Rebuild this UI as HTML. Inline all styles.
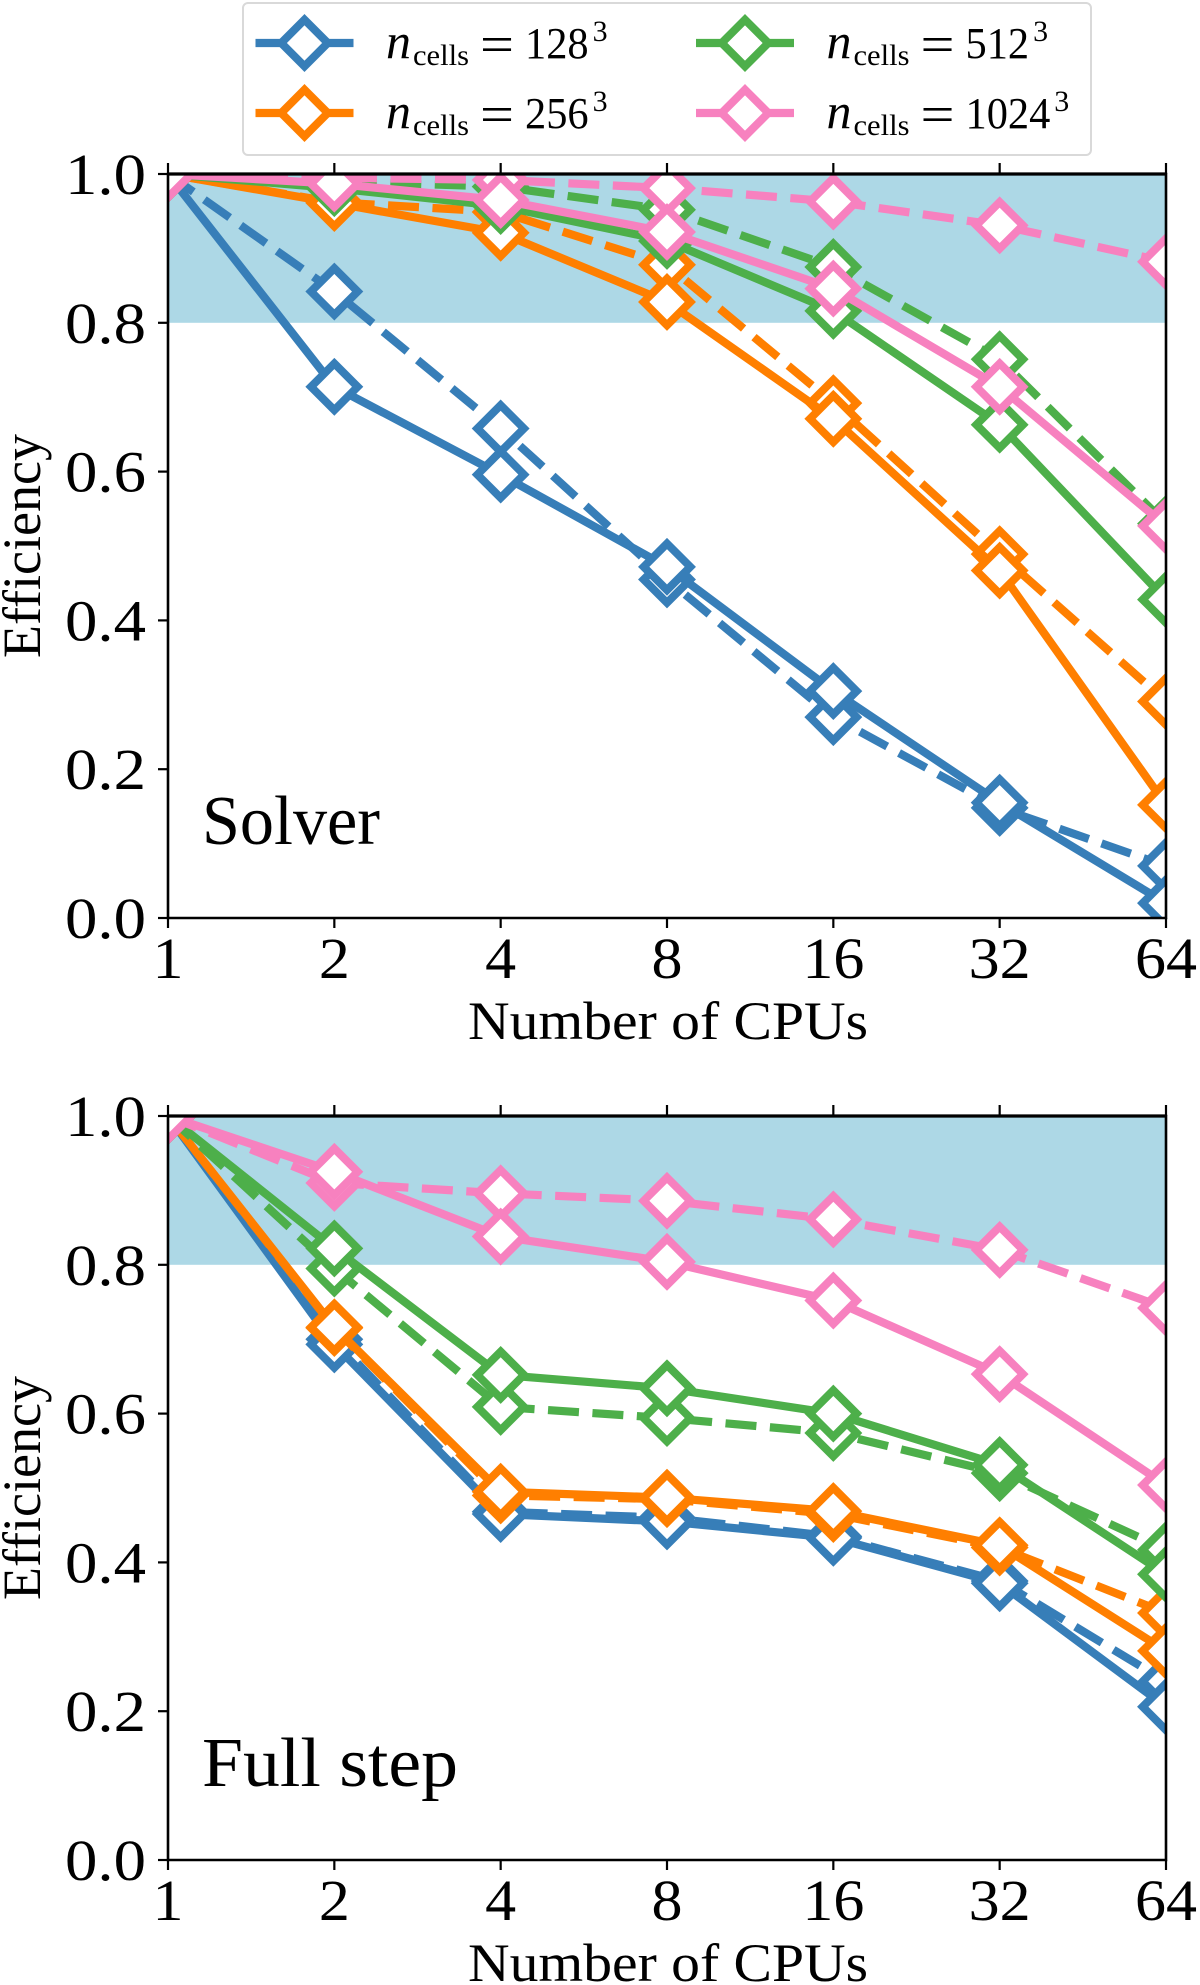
<!DOCTYPE html>
<html lang="en">
<head>
<meta charset="utf-8">
<title>Efficiency vs Number of CPUs</title>
<style>
html,body{margin:0;padding:0;background:#fff;}
svg{display:block;}
text{font-family:"Liberation Serif","DejaVu Serif",serif;fill:#000;}
</style>
</head>
<body>
<svg id="chart" xmlns="http://www.w3.org/2000/svg" width="1200" height="1985" viewBox="0 0 1200 1985">
  <g id="legend"></g>
</svg>
<script>
const cpus = [1, 2, 4, 8, 16, 32, 64];
const xTickLabels = ['1', '2', '4', '8', '16', '32', '64'];
const yTicks = [0, 0.2, 0.4, 0.6, 0.8, 1];
const yTickLabels = ['0.0', '0.2', '0.4', '0.6', '0.8', '1.0'];
const bandRange = [0.8, 1.0];
const seriesNames = ['128', '256', '512', '1024'];

const solver128Solid = [1, 0.714, 0.596, 0.472, 0.305, 0.155, 0.02];
const solver128Dashed = [1, 0.842, 0.658, 0.455, 0.27, 0.148, 0.07];
const solver256Solid = [1, 0.961, 0.921, 0.828, 0.671, 0.467, 0.152];
const solver256Dashed = [1, 0.962, 0.949, 0.878, 0.692, 0.489, 0.291];
const solver512Solid = [1, 0.981, 0.957, 0.91, 0.816, 0.663, 0.428];
const solver512Dashed = [1, 0.99, 0.983, 0.952, 0.875, 0.751, 0.53];
const solver1024Solid = [1, 0.987, 0.965, 0.922, 0.846, 0.714, 0.527];
const solver1024Dashed = [1, 0.995, 0.992, 0.981, 0.963, 0.931, 0.882];

const full128Solid = [1, 0.693, 0.465, 0.455, 0.433, 0.372, 0.206];
const full128Dashed = [1, 0.70, 0.468, 0.46, 0.435, 0.375, 0.24];
const full256Solid = [1, 0.716, 0.495, 0.487, 0.469, 0.423, 0.281];
const full256Dashed = [1, 0.715, 0.49, 0.485, 0.465, 0.42, 0.332];
const full512Solid = [1, 0.822, 0.652, 0.634, 0.60, 0.531, 0.384];
const full512Dashed = [1, 0.795, 0.609, 0.594, 0.574, 0.52, 0.417];
const full1024Solid = [1, 0.925, 0.838, 0.804, 0.752, 0.653, 0.504];
const full1024Dashed = [1, 0.91, 0.896, 0.886, 0.861, 0.82, 0.742];

const NS = 'http://www.w3.org/2000/svg';
const svg = document.getElementById('chart');
const legend = document.getElementById('legend');
const colors = ['#377eb8', '#ff7f00', '#4daf4a', '#f781bf'];
const AX_LEFT = 168, AX_RIGHT = 1166, AX_H = 744, LW = 8.2, MW = 8, DH = 23.3;

function make(tag, attrs, parent) {
  const el = document.createElementNS(NS, tag);
  for (const k in attrs) el.setAttribute(k, attrs[k]);
  parent.appendChild(el);
  return el;
}
function xScale(v) {
  return AX_LEFT + (Math.log2(v) / Math.log2(64)) * (AX_RIGHT - AX_LEFT);
}
function yScaleFor(top) {
  return function (v) { return top + (1 - v) * AX_H; };
}
function diamondPoints(cx, cy) {
  return [[cx, cy - DH], [cx + DH, cy], [cx, cy + DH], [cx - DH, cy]].map(function (p) { return p.join(','); }).join(' ');
}

function drawPanel(key, top, labelText, labelLen, series) {
  const y = yScaleFor(top);
  const bottom = top + AX_H;
  const g = make('g', {}, svg);
  
  

  const clip = make('clipPath', { id: 'clip-' + key }, g);
  
  
  make('rect', { x: AX_LEFT, y: top, width: AX_RIGHT - AX_LEFT, height: AX_H }, clip);

  const band = make('rect', { x: AX_LEFT, y: y(bandRange[1]), width: AX_RIGHT - AX_LEFT, height: y(bandRange[0]) - y(bandRange[1]), fill: '#add8e6' }, g);
  
  

  const plot = make('g', { 'clip-path': 'url(#clip-' + key + ')' }, g);
  
  

  series.forEach(function (s) {
    const pts = s.values.map(function (v, i) { return xScale(cpus[i]) + ',' + y(v); }).join(' ');
    const sg = make('g', {}, plot);
    
    
    const line = make('polyline', { points: pts, fill: 'none', stroke: s.color, 'stroke-width': LW, 'stroke-linejoin': 'round' }, sg);
    if (s.style === 'dashed') line.setAttribute('stroke-dasharray', '31 13.5');
    
    
    s.values.forEach(function (v, i) {
      const m = make('polygon', { points: diamondPoints(xScale(cpus[i]), y(v)), fill: '#fff', stroke: s.color, 'stroke-width': MW, 'stroke-linejoin': 'miter' }, sg);
      
      
    });
  });

  const spines = make('path', { d: 'M' + AX_LEFT + ' ' + top + 'V' + bottom + 'H' + AX_RIGHT + 'V' + top + 'Z', fill: 'none', stroke: '#000', 'stroke-width': 2.6 }, g);
  
  
  const topSpine = make('line', { x1: AX_LEFT, x2: AX_RIGHT, y1: top, y2: top, stroke: '#000', 'stroke-width': 3.2 }, g);
  
  

  cpus.forEach(function (c, i) {
    const x = xScale(c);
    const t1 = make('line', { x1: x, x2: x, y1: bottom, y2: bottom + 10, stroke: '#000', 'stroke-width': 2.2 }, g);
    
    
    const t2 = make('line', { x1: x, x2: x, y1: top, y2: top - 11, stroke: '#000', 'stroke-width': 2.2 }, g);
    
    
    const lab = make('text', { x: x, y: bottom + 60, 'font-size': 58, 'text-anchor': 'middle', lengthAdjust: 'spacingAndGlyphs', textLength: xTickLabels[i].length * 31 }, g);
    lab.textContent = xTickLabels[i];
    
    
  });

  yTicks.forEach(function (v, i) {
    const yy = y(v);
    const t = make('line', { x1: AX_LEFT - 10, x2: AX_LEFT, y1: yy, y2: yy, stroke: '#000', 'stroke-width': 2.2 }, g);
    
    
    const lab = make('text', { x: 65, y: yy + 20, 'font-size': 58, lengthAdjust: 'spacingAndGlyphs', textLength: 81 }, g);
    lab.textContent = yTickLabels[i];
    
    
  });

  const xTitle = make('text', { x: 468, y: bottom + 121, 'font-size': 54, lengthAdjust: 'spacingAndGlyphs', textLength: 400 }, g);
  xTitle.textContent = 'Number of CPUs';
  
  

  const cy = top + AX_H / 2;
  const yTitle = make('text', { x: 0, y: 0, 'font-size': 54, 'text-anchor': 'middle', lengthAdjust: 'spacingAndGlyphs', textLength: 224, transform: 'translate(40 ' + cy + ') rotate(-90)' }, g);
  yTitle.textContent = 'Efficiency';
  
  

  const note = make('text', { x: 202, y: bottom - 74, 'font-size': 70, lengthAdjust: 'spacingAndGlyphs', textLength: labelLen }, g);
  note.textContent = labelText;
  
  
}

function buildSeries(vals) {
  const out = [];
  vals.forEach(function (pair, i) {
    out.push({ name: seriesNames[i], style: 'dashed', color: colors[i], values: pair[1] });
    out.push({ name: seriesNames[i], style: 'solid', color: colors[i], values: pair[0] });
  });
  return out;
}

drawPanel('solver', 174, 'Solver', 178, buildSeries([
  [solver128Solid, solver128Dashed],
  [solver256Solid, solver256Dashed],
  [solver512Solid, solver512Dashed],
  [solver1024Solid, solver1024Dashed]
]));
drawPanel('full-step', 1116, 'Full step', 256, buildSeries([
  [full128Solid, full128Dashed],
  [full256Solid, full256Dashed],
  [full512Solid, full512Dashed],
  [full1024Solid, full1024Dashed]
]));

const legendBox = make('rect', { x: 243, y: 3, width: 848, height: 152, rx: 5, ry: 5, fill: '#fff', stroke: '#d9d9d9', 'stroke-width': 2 }, legend);



seriesNames.forEach(function (name, i) {
  const colOff = i < 2 ? 0 : 440.5;
  const rowOff = i % 2 === 0 ? 0 : 70;
  const color = colors[i];
  const cx = 304.5 + colOff, cy = 43 + rowOff;
  const entry = make('g', {}, legend);
  
  

  const ln = make('line', { x1: cx - 49, x2: cx + 49, y1: cy, y2: cy, stroke: color, 'stroke-width': LW }, entry);
  
  
  const mk = make('polygon', { points: diamondPoints(cx, cy), fill: '#fff', stroke: color, 'stroke-width': MW }, entry);
  
  

  const nText = make('text', { x: 386 + colOff, y: 58 + rowOff, 'font-size': 50, 'font-style': 'italic', lengthAdjust: 'spacingAndGlyphs', textLength: 25 }, entry);
  nText.textContent = 'n';
  
  
  const subText = make('text', { x: 413 + colOff, y: 65 + rowOff, 'font-size': 30, lengthAdjust: 'spacingAndGlyphs', textLength: 56 }, entry);
  subText.textContent = 'cells';
  
  
  const eq = make('text', { x: 480 + colOff, y: 62 + rowOff, 'font-size': 52, lengthAdjust: 'spacingAndGlyphs', textLength: 34 }, entry);
  eq.textContent = '=';
  
  
  const num = make('text', { x: 525 + colOff, y: 58 + rowOff, 'font-size': 44, lengthAdjust: 'spacingAndGlyphs', textLength: name.length * 21.2 }, entry);
  num.textContent = name;
  
  
  const sup = make('text', { x: 525 + colOff + name.length * 21.2 + 4, y: 41 + rowOff, 'font-size': 30 }, entry);
  sup.textContent = '3';
  
  
});
</script>
</body>
</html>
